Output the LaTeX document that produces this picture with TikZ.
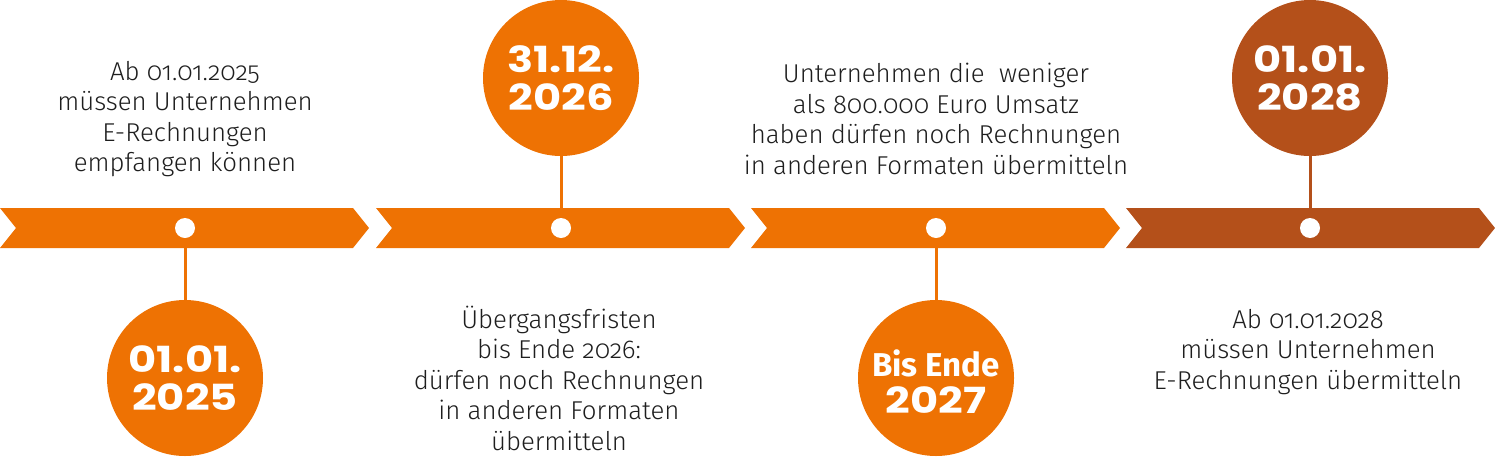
\documentclass[tikz,border=0pt]{standalone}
\usepackage{fontspec}
\setmainfont{Fira Sans}[UprightFont=* Light, Numbers=OldStyle]
\newfontfamily\datefont{Poppins}[UprightFont=* Bold, FakeStretch=1.2]
\newfontfamily\bisfont{Fira Sans}[UprightFont=* Bold]
\definecolor{orng}{RGB}{238,114,3}
\definecolor{brwn}{RGB}{180,80,26}
\definecolor{txt}{RGB}{30,30,30}
\newcommand{\lowerby}[2]{\smash{\raisebox{-#1}{#2}}\vphantom{#2}}
\tikzset{
  segfill/.style={fill=#1, draw=none},
  whitedot/.style={circle, fill=white, draw=none, minimum size=20pt, inner sep=0pt},
  datecircle/.style={circle, fill=#1, draw=none, minimum size=156pt, inner sep=0pt,
    text=white, align=center, font=\datefont\fontsize{36}{38}\selectfont},
  stem/.style={draw=#1, line width=3pt},
  bodytext/.style={text=txt, align=center, inner sep=0pt,
    font=\fontsize{25.8}{30.5}\selectfont},
}
\begin{document}
\begin{tikzpicture}[x=1pt, y=-1pt]
\useasboundingbox (0,0) rectangle (1495,461);
% segments
\foreach \x/\c in {0/orng, 376/orng, 751/orng, 1126/brwn} {
  \path[segfill=\c] (\x,208) -- (\x+353,208) -- (\x+369,228) -- (\x+353,248)
     -- (\x,248) -- (\x+16,228) -- cycle;
}
% dots
\node[whitedot] (d1) at (185,228) {};
\node[whitedot] (d2) at (561,228) {};
\node[whitedot] (d3) at (936,228) {};
\node[whitedot] (d4) at (1310,228) {};
% circles
\node[datecircle=orng] (c1) at (185,378) {01.01.\\2025};
\node[datecircle=orng] (c2) at (561,78) {31.12.\\2026};
\node[datecircle=orng] (c3) at (936,378) {{\bisfont\fontsize{33}{38}\selectfont\lowerby{4pt}{Bis Ende}}\\\lowerby{3pt}{2027}};
\node[datecircle=brwn] (c4) at (1310,78) {01.01.\\2028};
% stems
\draw[stem=orng] (d1) -- (c1);
\draw[stem=orng] (d2) -- (c2);
\draw[stem=orng] (d3) -- (c3);
\draw[stem=brwn] (d4) -- (c4);
% texts
\node[bodytext] (t1) at (185,119) {Ab 01.01.2025\\müssen Unternehmen\\E-Rechnungen\\empfangen können};
\node[bodytext] (t2) at (559,378) {Übergangsfristen\\bis Ende 2026:\\dürfen noch Rechnungen\\in anderen Formaten\\übermitteln};
\node[bodytext] (t3) at (936,119) {Unternehmen die~ weniger\\als 800.000 Euro Umsatz\\haben dürfen noch Rechnungen\\in anderen Formaten übermitteln};
\node[bodytext] (t4) at (1308,352) {Ab 01.01.2028\\müssen Unternehmen\\E-Rechnungen übermitteln};
\end{tikzpicture}
\end{document}
